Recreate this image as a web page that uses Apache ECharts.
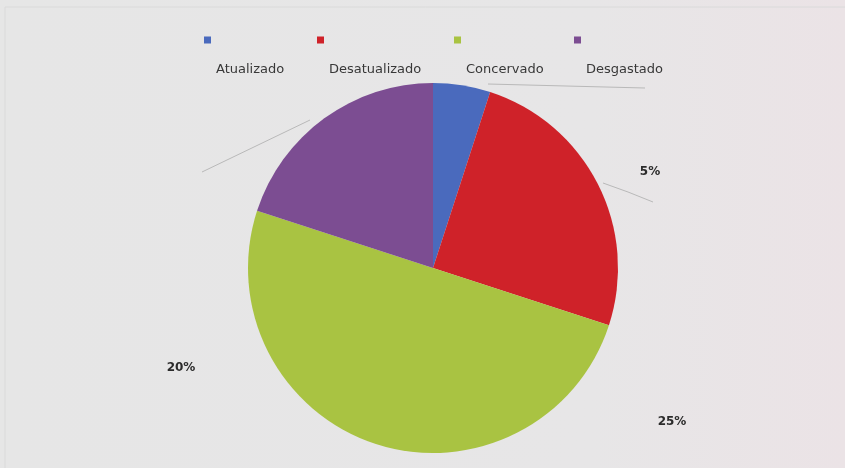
<!DOCTYPE html>
<html>
<head>
<meta charset="utf-8">
<script src="https://cdn.jsdelivr.net/npm/echarts@6/dist/echarts.min.js"></script>
<style>
  html, body { margin: 0; padding: 0; background: #e7e6e7; }
  #chart { width: 845px; height: 468px; }
</style>
</head>
<body>
<div id="chart"></div>
<script>
// Estado dos equipamentos (percentuais)
const categories = ['Atualizado', 'Desatualizado', 'Concervado', 'Desgastado'];
const values = [5, 25, 50, 20];
const colors = ['#4a6abd', '#cf2229', '#a9c342', '#7c4d92'];

const chart = echarts.init(document.getElementById('chart'));

// Label anchors and leader lines for each slice (null = no label)
const labelSpots = [
  { x: 650, y: 172, line: [[488, 84], [566, 86], [645, 88]] },
  { x: 672, y: 422, line: [[603, 183], [628, 192], [653, 202]] },
  null,
  { x: 181, y: 368, line: [[310, 120], [256, 146], [202, 172]] }
];

// One legend block per category: square marker with its name on the line below
const legendLefts = [204, 317, 454, 574];
const NAME_DROP = 60;
const legends = categories.map((name, i) => ({
  data: [name],
  left: legendLefts[i],
  top: 40 - NAME_DROP,
  padding: 0,
  orient: 'horizontal',
  itemWidth: 7,
  itemHeight: 7,
  itemGap: 0,
  icon: 'rect',
  selectedMode: false,
  formatter: n => '\n' + n,
  textStyle: {
    fontFamily: 'DejaVu Sans',
    fontSize: 13,
    lineHeight: NAME_DROP,
    color: '#383838'
  }
}));

chart.setOption({
  backgroundColor: {
    type: 'linear', x: 0, y: 0, x2: 1, y2: 0,
    colorStops: [
      { offset: 0, color: '#e6e6e6' },
      { offset: 0.7, color: '#e7e6e7' },
      { offset: 1, color: '#ebe3e6' }
    ]
  },
  color: colors,
  animation: false,
  legend: legends,
  graphic: [{
    type: 'rect',
    shape: { x: 5, y: 7, width: 850, height: 470 },
    style: { fill: 'none', stroke: '#dadada', lineWidth: 1 },
    silent: true
  }],
  series: [{
    type: 'pie',
    center: [433, 268],
    radius: 185,
    startAngle: 90,
    clockwise: true,
    data: categories.map((name, i) => ({
      name,
      value: values[i],
      label: { show: labelSpots[i] !== null },
      labelLine: { show: labelSpots[i] !== null }
    })),
    label: {
      show: true,
      formatter: p => p.value + '%',
      fontFamily: 'DejaVu Sans',
      fontWeight: 'bold',
      fontSize: 12,
      color: '#2b2b2b'
    },
    labelLine: {
      show: true,
      lineStyle: { color: '#b9b9b9', width: 1 }
    },
    labelLayout: function (params) {
      const spot = labelSpots[params.dataIndex];
      if (!spot) return {};
      return {
        x: spot.x,
        y: spot.y,
        align: 'center',
        verticalAlign: 'middle',
        labelLinePoints: spot.line
      };
    },
    itemStyle: { borderWidth: 0 },
    emphasis: { disabled: true }
  }]
});
</script>
</body>
</html>
